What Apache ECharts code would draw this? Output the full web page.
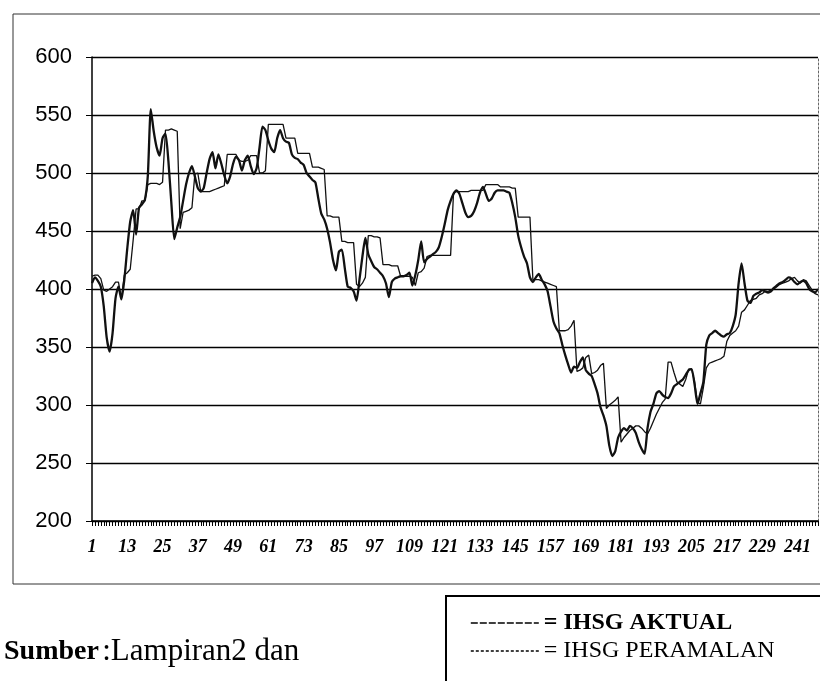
<!DOCTYPE html>
<html>
<head>
<meta charset="utf-8">
<title>IHSG Aktual dan Peramalan</title>
<script src="https://cdn.jsdelivr.net/npm/echarts@6/dist/echarts.min.js"></script>
<style>
	html, body { margin: 0; padding: 0; background: #fff; }
	#chart { width: 820px; height: 681px; }
</style>
</head>
<body>
<div id="chart"></div>
<script>
// nilai (perkiraan)
var aktual = [
	405, 410, 407, 402, 385, 358, 346, 362, 392, 402,
	391, 408, 435, 458, 468, 447, 470, 473, 477, 498,
	555, 536, 522, 515, 530, 534, 510, 474, 443, 453,
	462, 476, 490, 500, 506, 497, 487, 484, 487, 500,
	512, 518, 504, 516, 508, 498, 491, 497, 508, 514,
	511, 502, 511, 515, 506, 499, 504, 522, 540, 537,
	528, 521, 518, 530, 537, 530, 527, 526, 516, 513,
	512, 509, 507, 500, 497, 494, 492, 478, 465, 460,
	452, 440, 425, 416, 432, 434, 418, 402, 401, 398,
	390, 408, 428, 444, 430, 424, 419, 417, 414, 411,
	405, 393, 406, 409, 410, 411, 411, 412, 414, 403,
	412, 425, 441, 423, 426, 428, 430, 432, 436, 445,
	456, 468, 476, 482, 485, 482, 474, 466, 462, 463,
	467, 474, 483, 488, 482, 476, 478, 483, 485, 485,
	485, 484, 483, 474, 462, 446, 436, 428, 422, 410,
	406, 410, 413, 408, 404, 398, 385, 372, 366, 362,
	352, 343, 335, 328, 333, 332, 337, 341, 330, 327,
	325, 318, 310, 298, 291, 282, 265, 256, 260, 272,
	277, 280, 278, 282, 280, 276, 268, 262, 258, 280,
	294, 301, 310, 312, 309, 307, 306, 310, 316, 318,
	320, 322, 326, 330, 331, 318, 301, 310, 320, 352,
	360, 362, 364, 362, 360, 359, 361, 362, 368, 378,
	405, 422, 405, 390, 388, 394, 396, 397, 399, 398,
	397, 398, 401, 403, 405, 406, 408, 410, 409, 406,
	404, 406, 407, 405, 400, 398, 397, 400
];

var peramalan = [
	411, 412, 412, 409, 399, 398, 400, 402, 406, 406,
	392, 412, 414, 417, 442, 469, 469, 476, 476, 490,
	491, 491, 491, 490, 492, 537, 537, 538, 537, 536,
	452, 466, 467, 468, 470, 499, 500, 484, 484, 484,
	484, 485, 486, 487, 488, 489, 516, 516, 516, 516,
	511, 510, 510, 511, 515, 515, 515, 500, 500, 502,
	542, 542, 542, 542, 542, 542, 530, 530, 530, 530,
	517, 517, 517, 517, 517, 505, 505, 505, 504, 503,
	463, 463, 462, 462, 462, 441, 441, 440, 440, 440,
	404, 402, 405, 410, 446, 446, 445, 445, 444, 421,
	421, 421, 420, 420, 420, 411, 411, 411, 411, 410,
	403, 414, 415, 418, 428, 429, 429, 429, 429, 429,
	429, 429, 429, 483, 484, 484, 484, 484, 484, 485,
	485, 485, 485, 485, 490, 490, 490, 490, 490, 488,
	488, 488, 488, 487, 487, 462, 462, 462, 462, 462,
	408, 408, 408, 407, 406, 405, 404, 403, 402, 364,
	364, 364, 365, 368, 373, 329, 330, 332, 341, 343,
	327, 328, 330, 334, 336, 297, 300, 302, 304, 307,
	268, 272, 275, 278, 280, 282, 282, 280, 277, 275,
	280, 286, 292, 297, 302, 305, 337, 337, 328, 320,
	318, 316, 322, 331, 331, 320, 302, 301, 315, 332,
	336, 337, 338, 339, 340, 342, 355, 360, 362, 364,
	368, 380, 382, 386, 390, 391, 392, 395, 396, 398,
	398, 399, 400, 402, 404, 405, 406, 407, 409, 410,
	407, 405, 408, 407, 403, 399, 396, 395
];

var seriesNames = ['IHSG AKTUAL', 'IHSG PERAMALAN'];
var yTicks = { min: 200, max: 600, step: 50 };

// nomor periode 1..n
var periode = [];
for (var i = 1; i <= aktual.length; i++) {
	periode.push(String(i));
}

var chart = echarts.init(document.getElementById('chart'));

var option = {
	animation: false,
	backgroundColor: '#fff',
	color: ['#111', '#111'],
	grid: {
		left: 92,
		right: 2,
		top: 57,
		bottom: 160
	},
	legend: {
		// kotak keterangan terpotong di tepi kanan & bawah gambar
		orient: 'vertical',
		left: 446,
		top: 596,
		height: 160,
		padding: [15, 60, 40, 24],
		itemGap: 4,
		itemWidth: 68,
		itemHeight: 8,
		borderColor: '#000',
		borderWidth: 2,
		borderRadius: 0,
		selectedMode: false,
		data: [{
			name: seriesNames[0],
			itemStyle: { opacity: 0 },
			lineStyle: { type: [7, 2], width: 1.6, color: '#000' }
		}, {
			name: seriesNames[1],
			itemStyle: { opacity: 0 },
			lineStyle: { type: [3, 2], width: 1.3, color: '#000' }
		}],
		formatter: function(name) {
			if(name == seriesNames[0]) {
				return '{b|= ' + name + '}';
			}
			return '{r|= ' + name + '}';
		},
		textStyle: {
			rich: {
				b: { fontFamily: 'Liberation Serif', fontWeight: 'bold', fontSize: 24, color: '#000' },
				r: { fontFamily: 'Liberation Serif', fontSize: 24, color: '#000' }
			}
		}
	},
	xAxis: {
		type: 'category',
		boundaryGap: false,
		data: periode,
		axisLine: { lineStyle: { color: '#000', width: 1.6 } },
		axisTick: {
			show: true,
			interval: 0,
			length: 5,
			lineStyle: { color: '#000', width: 1 }
		},
		axisLabel: {
			interval: 11,
			margin: 17,
			fontFamily: 'Liberation Serif',
			fontStyle: 'italic',
			fontWeight: 'bold',
			fontSize: 18,
			color: '#000'
		},
		splitLine: { show: false }
	},
	yAxis: [{
		type: 'value',
		min: yTicks.min,
		max: yTicks.max,
		interval: yTicks.step,
		axisLine: { show: true, lineStyle: { color: '#000', width: 1.5 } },
		axisTick: { show: true, length: 6, lineStyle: { color: '#000' } },
		axisLabel: {
			margin: 20,
			fontFamily: 'Liberation Sans',
			fontSize: 22,
			color: '#000'
		},
		splitLine: { lineStyle: { color: '#000', width: 1.3 } }
	}, {
		// garis tepi kanan area plot
		type: 'value',
		position: 'right',
		min: yTicks.min,
		max: yTicks.max,
		interval: yTicks.step,
		axisLine: { show: true, lineStyle: { color: '#666', width: 1, type: [2, 2] } },
		axisTick: { show: false },
		axisLabel: { show: false },
		splitLine: { show: false }
	}],
	series: [{
		name: seriesNames[0],
		type: 'line',
		data: aktual,
		symbol: 'none',
		smooth: 0.2,
		z: 3,
		itemStyle: { color: '#111' },
		lineStyle: { color: '#111', width: 2.3 }
	}, {
		name: seriesNames[1],
		type: 'line',
		data: peramalan,
		symbol: 'none',
		z: 2,
		itemStyle: { color: '#111' },
		lineStyle: { color: '#111', width: 1.3 }
	}],
	graphic: [{
		type: 'rect',
		shape: { x: 13, y: 14, width: 840, height: 570 },
		style: { fill: 'none', stroke: '#333', lineWidth: 1 },
		silent: true
	}, {
		type: 'text',
		left: 4,
		top: 636,
		style: {
			text: '{b|Sumber} {r|:Lampiran2 dan}',
			rich: {
				b: { fontFamily: 'Liberation Serif', fontWeight: 'bold', fontSize: 28, fill: '#000' },
				r: { fontFamily: 'Liberation Serif', fontSize: 31, fill: '#000' }
			}
		}
	}]
};

chart.setOption(option);
</script>
</body>
</html>
